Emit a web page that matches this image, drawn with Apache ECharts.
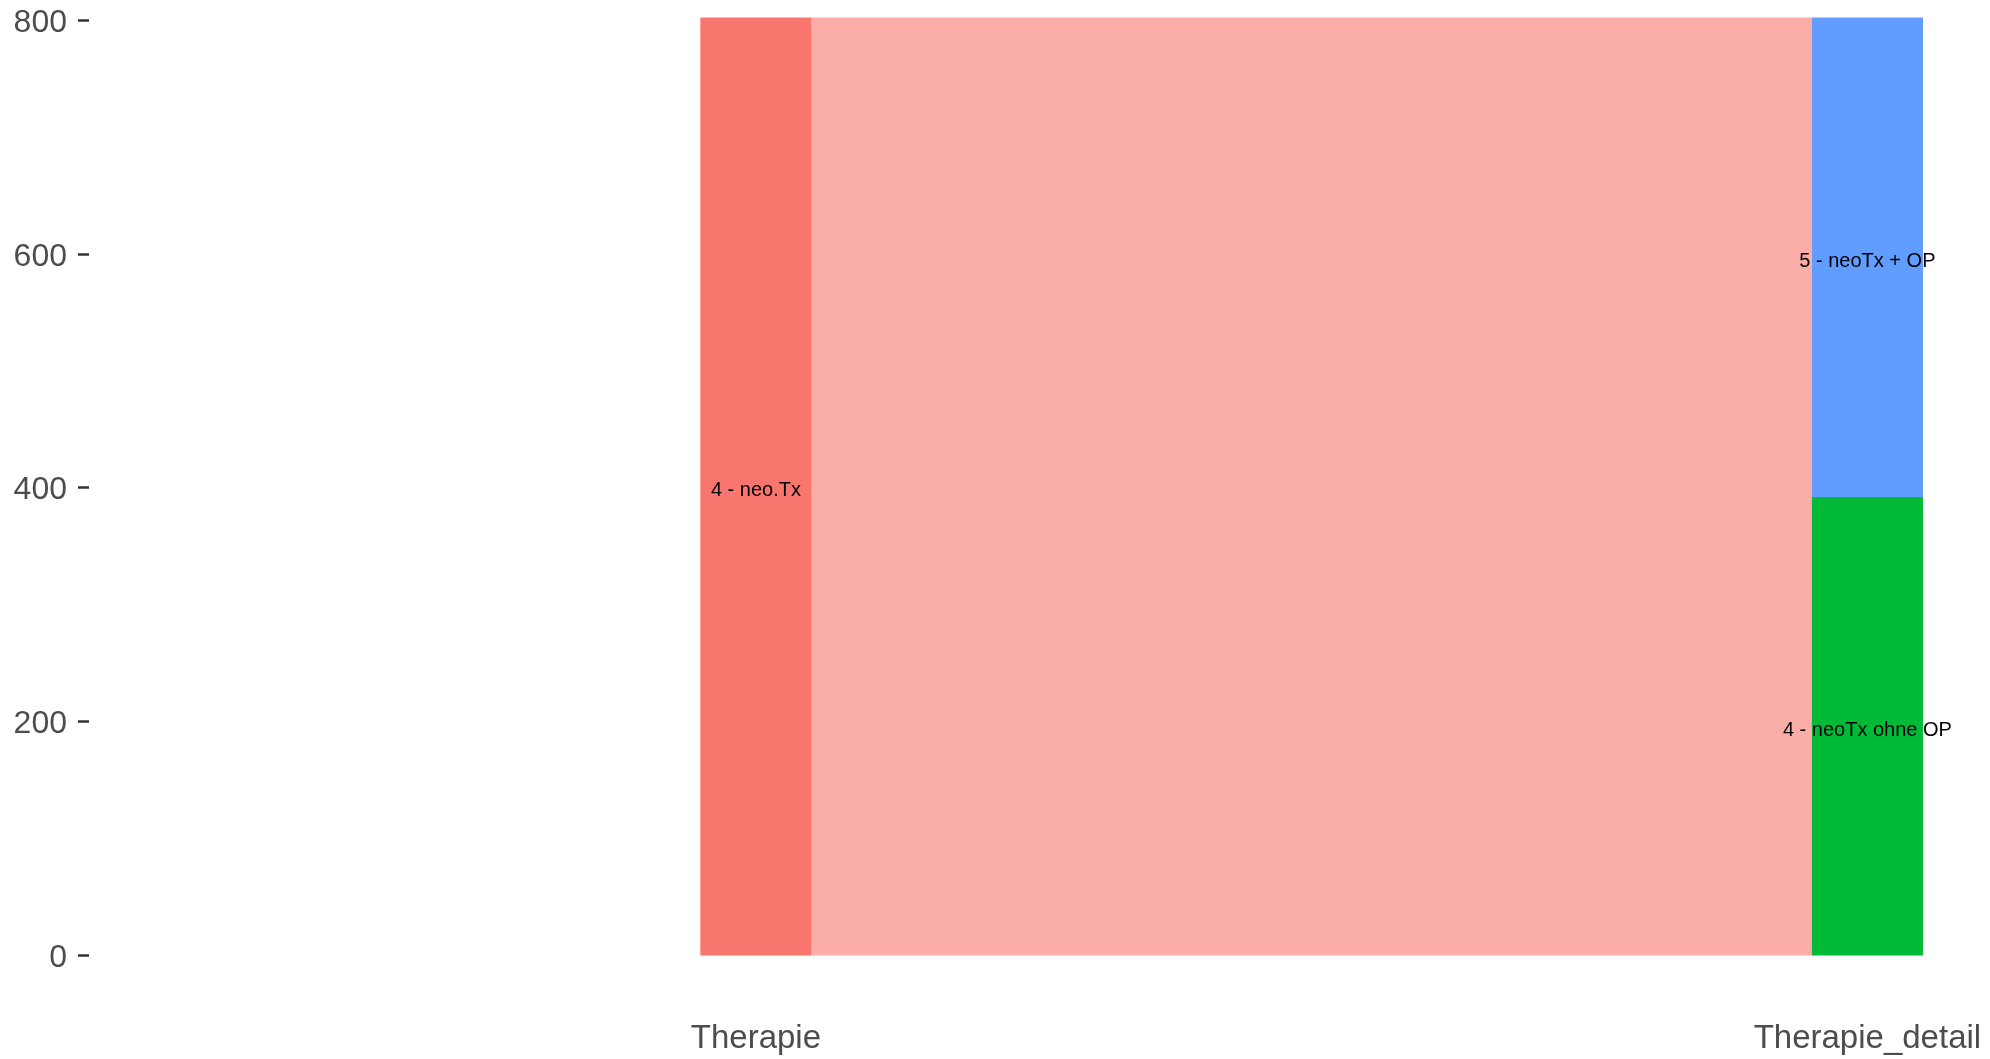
<!DOCTYPE html>
<html>
<head>
<meta charset="utf-8">
<script src="https://cdn.jsdelivr.net/npm/echarts@6/dist/echarts.min.js"></script>
<style>
html,body{margin:0;padding:0;background:#fff;}
#chart{width:1990px;height:1059px;}
</style>
</head>
<body>
<div id="chart"></div>
<script>
// ---- data ----
const axisNames = ['Therapie', 'Therapie_detail'];
const therapieNames = ['4 - neo.Tx'];
const therapieValues = [802];
const therapieColors = ['#F8766D'];
const detailNames = ['4 - neoTx ohne OP', '5 - neoTx + OP'];
const detailValues = [392, 410];
const detailColors = ['#00BA38', '#619CFF'];
const flowFrom = ['4 - neo.Tx', '4 - neo.Tx'];
const flowTo = ['4 - neoTx ohne OP', '5 - neoTx + OP'];
const flowValues = [392, 410];
const flowColor = '#FBADA7';
const yTicks = [0, 200, 400, 600, 800];

// ---- build stacks ----
const halfW = 0.05;
function stack(names, values, colors, xPos) {
  let acc = 0;
  return names.map((n, i) => {
    const item = { name: n, value: [xPos, acc, acc + values[i]], itemStyle: { color: colors[i] } };
    acc += values[i];
    return item;
  });
}
const strata = stack(therapieNames, therapieValues, therapieColors, 1)
  .concat(stack(detailNames, detailValues, detailColors, 2));

// flows: positions within left & right strata
const leftPos = {}, rightPos = {};
strata.forEach(s => { if (s.value[0] === 1) leftPos[s.name] = s.value[1]; else rightPos[s.name] = s.value[1]; });
const flows = flowValues.map((v, i) => {
  const a0 = leftPos[flowFrom[i]]; leftPos[flowFrom[i]] += v;
  const b0 = rightPos[flowTo[i]]; rightPos[flowTo[i]] += v;
  return { value: [a0, a0 + v, b0, b0 + v] };
});

const chart = echarts.init(document.getElementById('chart'), null, { renderer: 'canvas' });
const font = '"Liberation Sans", Arial, sans-serif';
chart.setOption({
  animation: false,
  grid: { left: 89, right: 0, top: 17.5, bottom: 103.5 },
  xAxis: {
    type: 'value', min: 0.4, max: 2.1103,
    axisLine: { show: false }, axisTick: { show: false }, splitLine: { show: false },
    axisLabel: {
      customValues: [1, 2],
      formatter: v => axisNames[Math.round(v) - 1] || '',
      fontSize: 33, color: '#4D4D4D', fontFamily: font, margin: 67
    }
  },
  yAxis: {
    type: 'value', min: 0, max: 802,
    axisLine: { show: false }, splitLine: { show: false },
    axisTick: { show: true, customValues: yTicks, length: 11, lineStyle: { color: '#333333', width: 2.5 } },
    axisLabel: {
      customValues: yTicks, margin: 22,
      formatter: v => '{t|' + v + '}',
      rich: { t: { fontSize: 32, color: '#4D4D4D', fontFamily: font, padding: [6, 0, 0, 0] } }
    }
  },
  series: [
    {
      type: 'custom', z: 1,
      data: flows,
      renderItem: (params, api) => {
        const a0 = api.value(0), a1 = api.value(1), b0 = api.value(2), b1 = api.value(3);
        const p1 = api.coord([1 + halfW, a0]), p2 = api.coord([1 + halfW, a1]);
        const p3 = api.coord([2 - halfW, b1]), p4 = api.coord([2 - halfW, b0]);
        return { type: 'polygon', shape: { points: [p1, p2, p3, p4] }, style: { fill: flowColor } };
      }
    },
    {
      type: 'custom', z: 2,
      data: strata,
      renderItem: (params, api) => {
        const x = api.value(0), y0 = api.value(1), y1 = api.value(2);
        const tl = api.coord([x - halfW, y1]), br = api.coord([x + halfW, y0]);
        const item = strata[params.dataIndex];
        return {
          type: 'group',
          children: [
            { type: 'rect', shape: { x: tl[0], y: tl[1], width: br[0] - tl[0], height: br[1] - tl[1] }, style: { fill: item.itemStyle.color } },
            { type: 'text', z2: 10, style: { text: item.name, x: (tl[0] + br[0]) / 2, y: (tl[1] + br[1]) / 2 + 4, align: 'center', verticalAlign: 'middle', fontSize: 20, fontFamily: font, fill: '#000000' } }
          ]
        };
      }
    }
  ]
});
</script>
</body>
</html>
